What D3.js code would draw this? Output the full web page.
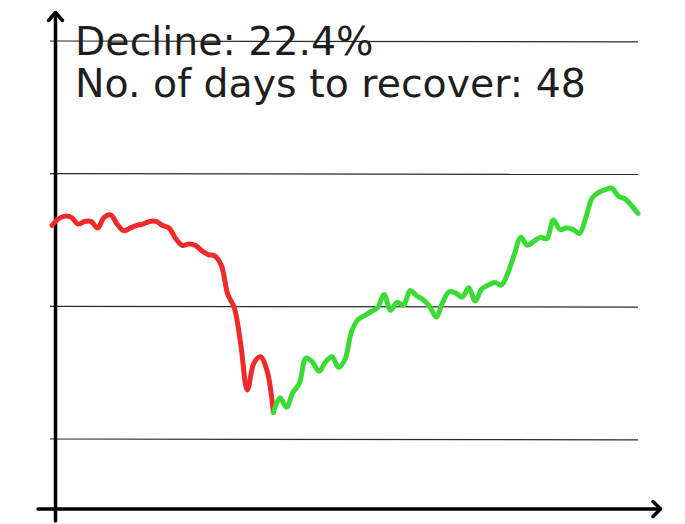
<!DOCTYPE html>
<meta charset="utf-8">
<script src="https://d3js.org/d3.v7.min.js"></script>
<style>
  body { margin: 0; background: #fff; }
</style>
<div id="chart"></div>
<script>

// values (arbitrary price units, one point per trading day)
var declineValues = [66.1, 66.6, 66.8, 66.7, 66.2, 66.4, 66.4, 65.9, 66.7, 66.9,
                     66.2, 65.7, 65.9, 66.1, 66.2, 66.4, 66.4, 66.1, 65.9, 65.1,
                     64.6, 64.7, 64.6, 64.2, 63.9, 63.8, 63.1, 60.9, 59.9, 57.1,
                     53.7, 55.7, 56.2, 55.2, 52.0];
var recoveryValues = [52.0, 53.1, 52.4, 53.5, 54.2, 56.1, 55.8, 55.1, 55.8, 56.2,
                      55.4, 56.0, 58.1, 59.0, 59.3, 59.6, 59.9, 60.9, 59.7, 60.3,
                      60.1, 61.2, 60.8, 60.5, 60.0, 59.2, 60.3, 61.1, 61.0, 60.7,
                      61.4, 60.4, 61.3, 61.6, 61.8, 61.6, 62.5, 63.9, 65.2, 64.6,
                      64.9, 65.2, 65.1, 66.5, 65.8, 65.9, 65.8, 65.5, 66.7, 68.2,
                      68.6, 68.8, 68.9, 68.3, 68.1, 67.6, 67.0];
var troughDay = 34;
var totalDays = 90;
var gridValues = [50, 60, 70, 80];
var notes = ["Decline: 22.4%", "No. of days to recover: 48"];

var width = 685, height = 524;

var svg = d3.select("#chart")
  .append("svg")
    .attr("width", width)
    .attr("height", height);

var x = d3.scaleLinear()
  .domain([0, totalDays])
  .range([52, 638]);

var y = d3.scaleLinear()
  .domain([50, 80])
  .range([439, 41]);

// grid lines
svg.append("g")
  .selectAll("line")
  .data(gridValues)
  .enter()
  .append("line")
    .attr("x1", 50)
    .attr("x2", 638)
    .attr("y1", function(d) { return y(d); })
    .attr("y2", function(d) { return y(d) + 0.8; })
    .attr("stroke", "#2a2a2a")
    .attr("stroke-width", 1.2);

// axes as hand drawn arrows
var axisG = svg.append("g")
  .attr("stroke", "#000")
  .attr("stroke-width", 3.5)
  .attr("stroke-linecap", "round")
  .attr("stroke-linejoin", "round")
  .attr("fill", "none");

axisG.append("line").attr("x1", 55.5).attr("x2", 55.5).attr("y1", 13).attr("y2", 521);
axisG.append("path").attr("d", "M48.5,20.5 L55.5,12.5 L62.5,20.5");
axisG.append("line").attr("x1", 38).attr("x2", 660).attr("y1", 509).attr("y2", 509);
axisG.append("path").attr("d", "M653,501.5 L660.5,509 L653,516.5");

// the price line
var line = d3.line()
  .x(function(d) { return x(d.day); })
  .y(function(d) { return y(d.value); })
  .curve(d3.curveCatmullRom.alpha(0.5));

var declineData = declineValues.map(function(v, i) { return {day: i, value: v}; });
var recoveryData = recoveryValues.map(function(v, i) { return {day: troughDay + i, value: v}; });

svg.append("path")
  .datum(declineData)
  .attr("d", line)
  .attr("fill", "none")
  .attr("stroke", "#ee2a2a")
  .attr("stroke-width", 5)
  .attr("stroke-linecap", "round")
  .attr("stroke-linejoin", "round");

svg.append("path")
  .datum(recoveryData)
  .attr("d", line)
  .attr("fill", "none")
  .attr("stroke", "#3bdb35")
  .attr("stroke-width", 5)
  .attr("stroke-linecap", "round")
  .attr("stroke-linejoin", "round");

// text notes
var txt = svg.append("g")
  .selectAll("text")
  .data(notes)
  .enter()
  .append("text")
    .attr("x", 75)
    .attr("y", function(d, i) { return 55 + i * 42; })
    .style("font-family", "'DejaVu Sans', sans-serif")
    .style("font-size", "30px")
    .style("fill", "#1e1e1e")
    .text(function(d) { return d; });

// fit font size so the second line spans like the reference
var w = txt.nodes()[1].getComputedTextLength();
var fs = 30 * 511 / w;
txt.style("font-size", fs + "px");

</script>
